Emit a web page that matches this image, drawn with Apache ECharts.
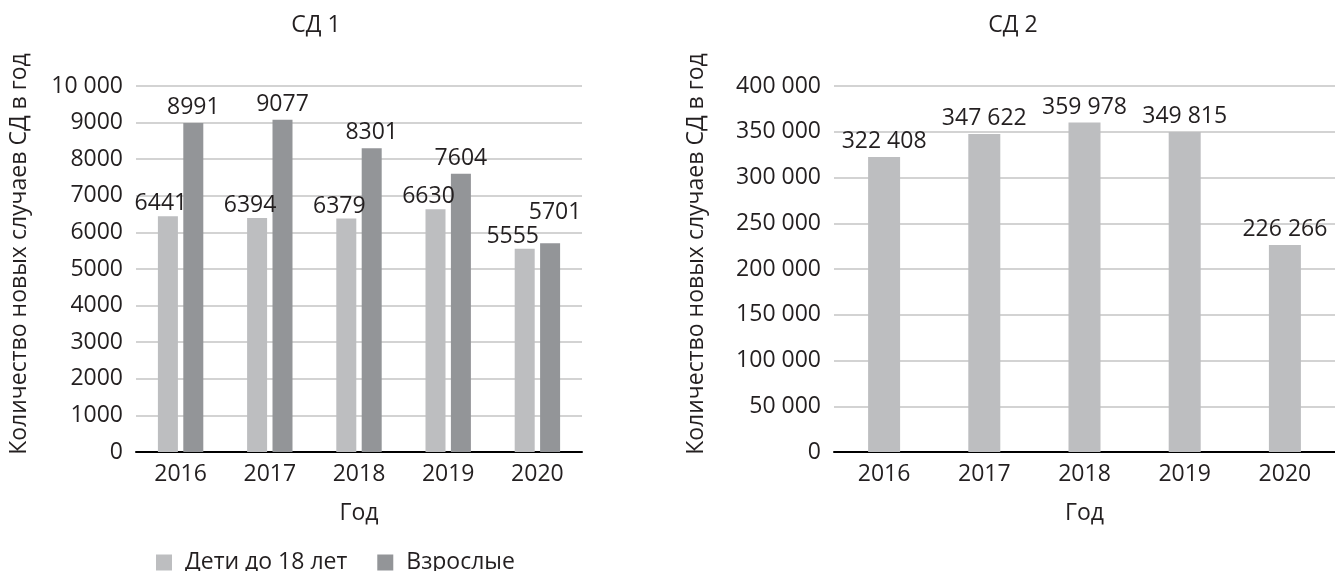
<!DOCTYPE html>
<html><head><meta charset="utf-8">
<script src="https://cdn.jsdelivr.net/npm/echarts@6/dist/echarts.min.js"></script>
<style>html,body{margin:0;padding:0;background:#fff}#c{width:1335px;height:571px}</style>
</head><body><div id="c"></div>
<script>
// ---- data ----
const years = ['2016', '2017', '2018', '2019', '2020'];
const sd1Children = [6441, 6394, 6379, 6630, 5555];
const sd1Adults = [8991, 9077, 8301, 7604, 5701];
const sd2Total = [322408, 347622, 359978, 349815, 226266];
const sd1Axis = { min: 0, max: 10000, interval: 1000 };
const sd2Axis = { min: 0, max: 400000, interval: 50000 };
const titles = ['СД 1', 'СД 2'];
const seriesNames = ['Дети до 18 лет', 'Взрослые'];
const yName = 'Количество новых случаев СД в год';
const xName = 'Год';

// ---- style ----
const FONT = 'Open Sans';
const TXT = '#231f20';
const LIGHT = '#bdbec0';
const DARK = '#939598';
const FS = 23;

function fmt(v) {
  return v >= 10000 ? String(v).replace(/\B(?=(\d{3})+(?!\d))/g, ' ') : String(v);
}

const chart = echarts.init(document.getElementById('c'), null, { renderer: 'canvas' });

function xAxisOf(gi) {
  return {
    type: 'category', gridIndex: gi, data: years,
    axisLine: { lineStyle: { color: '#000', width: 2 } },
    axisTick: { show: false },
    axisLabel: { color: TXT, fontFamily: FONT, fontSize: FS, margin: 11 },
    name: xName, nameLocation: 'middle', nameGap: 50,
    nameTextStyle: { color: TXT, fontFamily: FONT, fontSize: FS }
  };
}
function yAxisOf(gi, ax, gap) {
  return {
    type: 'value', gridIndex: gi, min: ax.min, max: ax.max, interval: ax.interval,
    axisLine: { show: false }, axisTick: { show: false },
    axisLabel: { color: TXT, fontFamily: FONT, fontSize: FS, margin: 13, formatter: fmt },
    splitLine: { lineStyle: { color: '#c4c4c4', width: 1.5 } },
    name: yName, nameLocation: 'middle', nameGap: gap,
    nameTextStyle: { color: TXT, fontFamily: FONT, fontSize: FS, padding: [0, 0, 0, 30] }
  };
}

const labelBase = { show: true, position: 'top', color: TXT, fontFamily: FONT, fontSize: FS, formatter: p => fmt(p.value) };

const childData = sd1Children.map((v, i) => {
  const close = Math.abs(v - sd1Adults[i]) < 600;
  return close ? { value: v, label: { offset: [-12, 0] } } : v;
});
const adultData = sd1Adults.map((v, i) => {
  const close = Math.abs(v - sd1Children[i]) < 600;
  return close ? { value: v, label: { offset: [5, -15] } } : v;
});

chart.setOption({
  animation: false,
  backgroundColor: '#fff',
  title: [
    { text: titles[0], left: 311, top: 9, textAlign: 'center', textStyle: { color: TXT, fontFamily: FONT, fontSize: FS, fontWeight: 'normal' } },
    { text: titles[1], left: 1008, top: 9, textAlign: 'center', textStyle: { color: TXT, fontFamily: FONT, fontSize: FS, fontWeight: 'normal' } }
  ],
  legend: {
    data: seriesNames, left: 151, top: 546, icon: 'rect', itemWidth: 16, itemHeight: 16, itemGap: 30,
    textStyle: { color: TXT, fontFamily: FONT, fontSize: FS, padding: [0, 0, 0, 8] }
  },
  grid: [
    { left: 136, right: 753, top: 86, bottom: 119, containLabel: false },
    { left: 834, right: 0, top: 86, bottom: 119, containLabel: false }
  ],
  xAxis: [xAxisOf(0), xAxisOf(1)],
  yAxis: [yAxisOf(0, sd1Axis, 105), yAxisOf(1, sd2Axis, 126)],
  series: [
    { name: seriesNames[0], type: 'bar', xAxisIndex: 0, yAxisIndex: 0, data: childData, barWidth: 20, barGap: '27%',
      itemStyle: { color: LIGHT }, label: Object.assign({}, labelBase, { distance: 1, offset: [-7, 0] }) },
    { name: seriesNames[1], type: 'bar', xAxisIndex: 0, yAxisIndex: 0, data: adultData, barWidth: 20, barGap: '27%',
      itemStyle: { color: DARK }, label: Object.assign({}, labelBase, { distance: 4 }) },
    { name: 'СД 2', type: 'bar', xAxisIndex: 1, yAxisIndex: 1, data: sd2Total, barWidth: 32,
      itemStyle: { color: LIGHT }, label: Object.assign({}, labelBase, { distance: 4 }) }
  ]
});
</script></body></html>
